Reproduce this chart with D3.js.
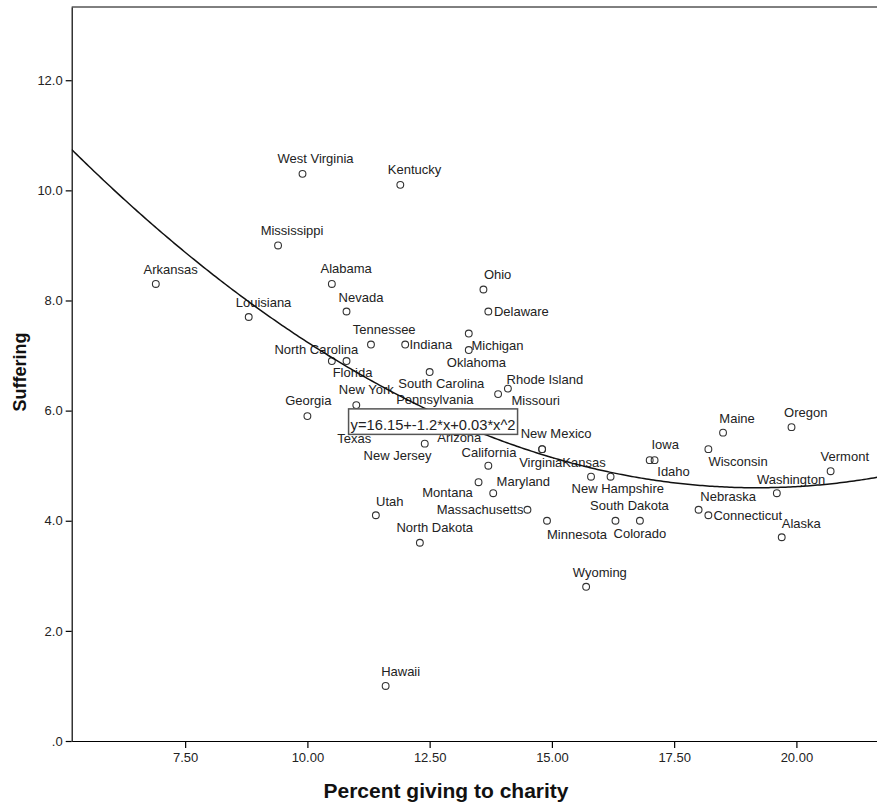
<!DOCTYPE html>
<html><head><meta charset="utf-8">
<script src="https://cdn.jsdelivr.net/npm/d3@7"></script>
<style>
html,body{margin:0;padding:0;background:#fff;}
svg{display:block;font-family:"Liberation Sans",Arial,sans-serif;}
</style></head><body>
<svg id="chart" width="877" height="805"></svg>
<script>
// ---------- data ----------
const states = ["Arkansas","Louisiana","West Virginia","Mississippi","Kentucky","Alabama","Nevada","Ohio","Delaware","Tennessee",
  "Indiana","Michigan","Oklahoma","North Carolina","Florida","South Carolina","Rhode Island","Missouri","Georgia","New York",
  "New Jersey","New Mexico","Virginia","California","Montana","Maryland","Massachusetts","Minnesota","Utah","North Dakota",
  "Kansas","New Hampshire","South Dakota","Colorado","Iowa","Idaho","Maine","Wisconsin","Oregon","Vermont",
  "Washington","Nebraska","Connecticut","Alaska","Wyoming","Hawaii","Pennsylvania","Texas","Arizona","Illinois"];
const giving = [6.9,8.8,9.9,9.4,11.9,10.5,10.8,13.6,13.7,11.3,
  12.0,13.3,13.3,10.5,10.8,12.5,14.1,13.9,10.0,11.0,
  12.4,14.8,14.8,13.7,13.5,13.8,14.5,14.9,11.4,12.3,
  15.8,16.2,16.3,16.8,17.0,17.1,18.5,18.2,19.9,20.7,
  19.6,18.0,18.2,19.7,15.7,11.6,12.3,11.0,13.0,11.8];
const suffering = [8.3,7.7,10.3,9.0,10.1,8.3,7.8,8.2,7.8,7.2,
  7.2,7.4,7.1,6.9,6.9,6.7,6.4,6.3,5.9,6.1,
  5.4,5.3,5.3,5.0,4.7,4.5,4.2,4.0,4.1,3.6,
  4.8,4.8,4.0,4.0,5.1,5.1,5.6,5.3,5.7,4.9,
  4.5,4.2,4.1,3.7,2.8,1.0,5.9,5.7,5.8,5.8];
const xTicks = [7.5,10,12.5,15,17.5,20];
const xTickLabels = ["7.50","10.00","12.50","15.00","17.50","20.00"];
const yTicks = [0,2,4,6,8,10,12];
const yTickLabels = [".0","2.0","4.0","6.0","8.0","10.0","12.0"];
const xTitle = "Percent giving to charity";
const yTitle = "Suffering";
const equationText = "y=16.15+-1.2*x+0.03*x^2";

// ---------- layout (not data) ----------
// label placement: [anchor, dx, dy] in pixels relative to the marker (dy to baseline)
const labelLayout = {
  "Arkansas":["middle",14.8,-10],"Louisiana":["middle",14.8,-10],"West Virginia":["middle",13,-10.7],
  "Mississippi":["middle",14,-10.7],"Kentucky":["middle",14.2,-10.7],"Alabama":["middle",14.3,-11],
  "Nevada":["middle",14.5,-10],"Ohio":["middle",14.2,-10.7],"Delaware":["start",5.6,4],
  "Tennessee":["middle",13.2,-11],"Indiana":["start",4.3,4],"Michigan":["start",2.7,16],
  "Oklahoma":["middle",7.7,16.7],"North Carolina":["middle",-15.5,-6.7],"Florida":["middle",6,16.3],
  "South Carolina":["middle",11.7,16],"Rhode Island":["start",-1.3,-5],"Missouri":["start",13.4,11.3],
  "Georgia":["middle",0.9,-11],"New York":["middle",10,-11],"New Jersey":["end",6.7,16],
  "New Mexico":["middle",14,-11],"Virginia":["middle",-1.4,17.4],"California":["middle",0.7,-8.6],
  "Montana":["end",-5.7,15],"Maryland":["start",3.4,-7.3],"Massachusetts":["end",-4,4],
  "Minnesota":["start",0,18.3],"Utah":["middle",14,-9],"North Dakota":["middle",14.9,-11],
  "Kansas":["middle",-7,-10],"New Hampshire":["middle",7.2,16],"South Dakota":["middle",14,-11],
  "Colorado":["middle",0,17.3],"Iowa":["middle",15.5,-10.7],"Idaho":["start",2.7,16],
  "Maine":["middle",14,-9.4],"Wisconsin":["start",0,16.4],"Oregon":["middle",14.3,-10],
  "Vermont":["middle",14.2,-10],"Washington":["middle",14.2,-9.3],"Nebraska":["start",1.7,-8.3],
  "Connecticut":["start",5,4.3],"Alaska":["start",0,-9],"Wyoming":["middle",13.7,-10],
  "Hawaii":["middle",15,-10],"Pennsylvania":["middle",15,-12],"Texas":["middle",-2,16.3],
  "Arizona":["middle",5.2,20]
};
const equationAnchor = [12.57, 5.8];

// ---------- quadratic least-squares fit from the data ----------
function quadFit(xs, ys){
  const S=[0,0,0,0,0], T=[0,0,0];
  for(let i=0;i<xs.length;i++){
    let p=1;
    for(let k=0;k<5;k++){ S[k]+=p; if(k<3) T[k]+=p*ys[i]; p*=xs[i]; }
  }
  const M=[[S[0],S[1],S[2],T[0]],[S[1],S[2],S[3],T[1]],[S[2],S[3],S[4],T[2]]];
  for(let c=0;c<3;c++){
    for(let r=c+1;r<3;r++){
      const f=M[r][c]/M[c][c];
      for(let k=c;k<4;k++) M[r][k]-=f*M[c][k];
    }
  }
  const b=[0,0,0];
  for(let r=2;r>=0;r--){
    let s=M[r][3];
    for(let k=r+1;k<3;k++) s-=M[r][k]*b[k];
    b[r]=s/M[r][r];
  }
  return b;
}
const coef = quadFit(giving, suffering);

// ---------- scales ----------
const svg = d3.select("#chart");
const x = d3.scaleLinear().domain([5.18, 22]).range([71.7, 71.7 + 16.82*48.9]);
const y = d3.scaleLinear().domain([0, 13.33]).range([741, 7]);

svg.append("defs").append("clipPath").attr("id","plotclip")
  .append("rect").attr("x",x.range()[0]).attr("y",y.range()[1])
  .attr("width",x.range()[1]-x.range()[0]).attr("height",y.range()[0]-y.range()[1]);

// frame top line
svg.append("line").attr("x1",x.range()[0]).attr("x2",x.range()[1])
  .attr("y1",y.range()[1]).attr("y2",y.range()[1]).attr("stroke","#000").attr("stroke-width",1);

// axes
const xAxis = d3.axisBottom(x).tickValues(xTicks).tickFormat((d,i)=>xTickLabels[i])
  .tickSizeInner(7).tickSizeOuter(0).tickPadding(5);
const yAxis = d3.axisLeft(y).tickValues(yTicks).tickFormat((d,i)=>yTickLabels[i])
  .tickSizeInner(6).tickSizeOuter(0).tickPadding(3);
const gx = svg.append("g").attr("transform",`translate(0,${y.range()[0]})`).call(xAxis);
const gy = svg.append("g").attr("transform",`translate(${x.range()[0]},0)`).call(yAxis);
[gx,gy].forEach(g=>{
  g.selectAll("path.domain").attr("stroke","#000").attr("stroke-width",1.2);
  g.selectAll(".tick line").attr("stroke","#000").attr("stroke-width",1.2);
  g.selectAll(".tick text").attr("font-size","13px").attr("fill","#222")
    .attr("font-family",'"Liberation Sans",Arial,sans-serif');
});

// markers
const pts = states.map((s,i)=>({name:s, gx:giving[i], sy:suffering[i]}));
const plot = svg.append("g").attr("clip-path","url(#plotclip)");
plot.selectAll("circle.pt").data(pts).join("circle").attr("class","pt")
  .attr("cx",d=>x(d.gx)).attr("cy",d=>y(d.sy)).attr("r",3.4)
  .attr("fill","none").attr("stroke","#333").attr("stroke-width",1.1);

// labels
plot.selectAll("text.lbl").data(pts.filter(d=>labelLayout[d.name])).join("text").attr("class","lbl")
  .attr("x",d=>x(d.gx)+labelLayout[d.name][1])
  .attr("y",d=>y(d.sy)+labelLayout[d.name][2])
  .attr("text-anchor",d=>labelLayout[d.name][0])
  .attr("font-size","13px").attr("fill","#222")
  .text(d=>d.name);

// fitted curve (least squares on the data)
const xs = d3.range(x.domain()[0], x.domain()[1]+0.001, 0.05);
const line = d3.line().x(d=>x(d)).y(d=>y(coef[0]+coef[1]*d+coef[2]*d*d));
plot.append("path").datum(xs).attr("d",line).attr("fill","none")
  .attr("stroke","#111").attr("stroke-width",1.5);

// equation box
const eq = svg.append("g").attr("transform",`translate(${x(equationAnchor[0])},${y(equationAnchor[1])})`);
eq.append("rect").attr("x",-84.5).attr("y",-12.75).attr("width",169).attr("height",25.5)
  .attr("fill","#fff").attr("stroke","#555").attr("stroke-width",1.5);
eq.append("text").attr("x",0).attr("y",8).attr("text-anchor","middle")
  .attr("font-size","14.7px").attr("fill","#222").text(equationText);

// axis titles
svg.append("text").attr("x",446).attr("y",798).attr("text-anchor","middle")
  .attr("font-size","21px").attr("font-weight","bold").attr("fill","#111").text(xTitle);
svg.append("text").attr("transform","translate(25.5,372) rotate(-90)").attr("text-anchor","middle")
  .attr("font-size","18px").attr("font-weight","bold").attr("fill","#111").text(yTitle);
</script>
</body></html>
